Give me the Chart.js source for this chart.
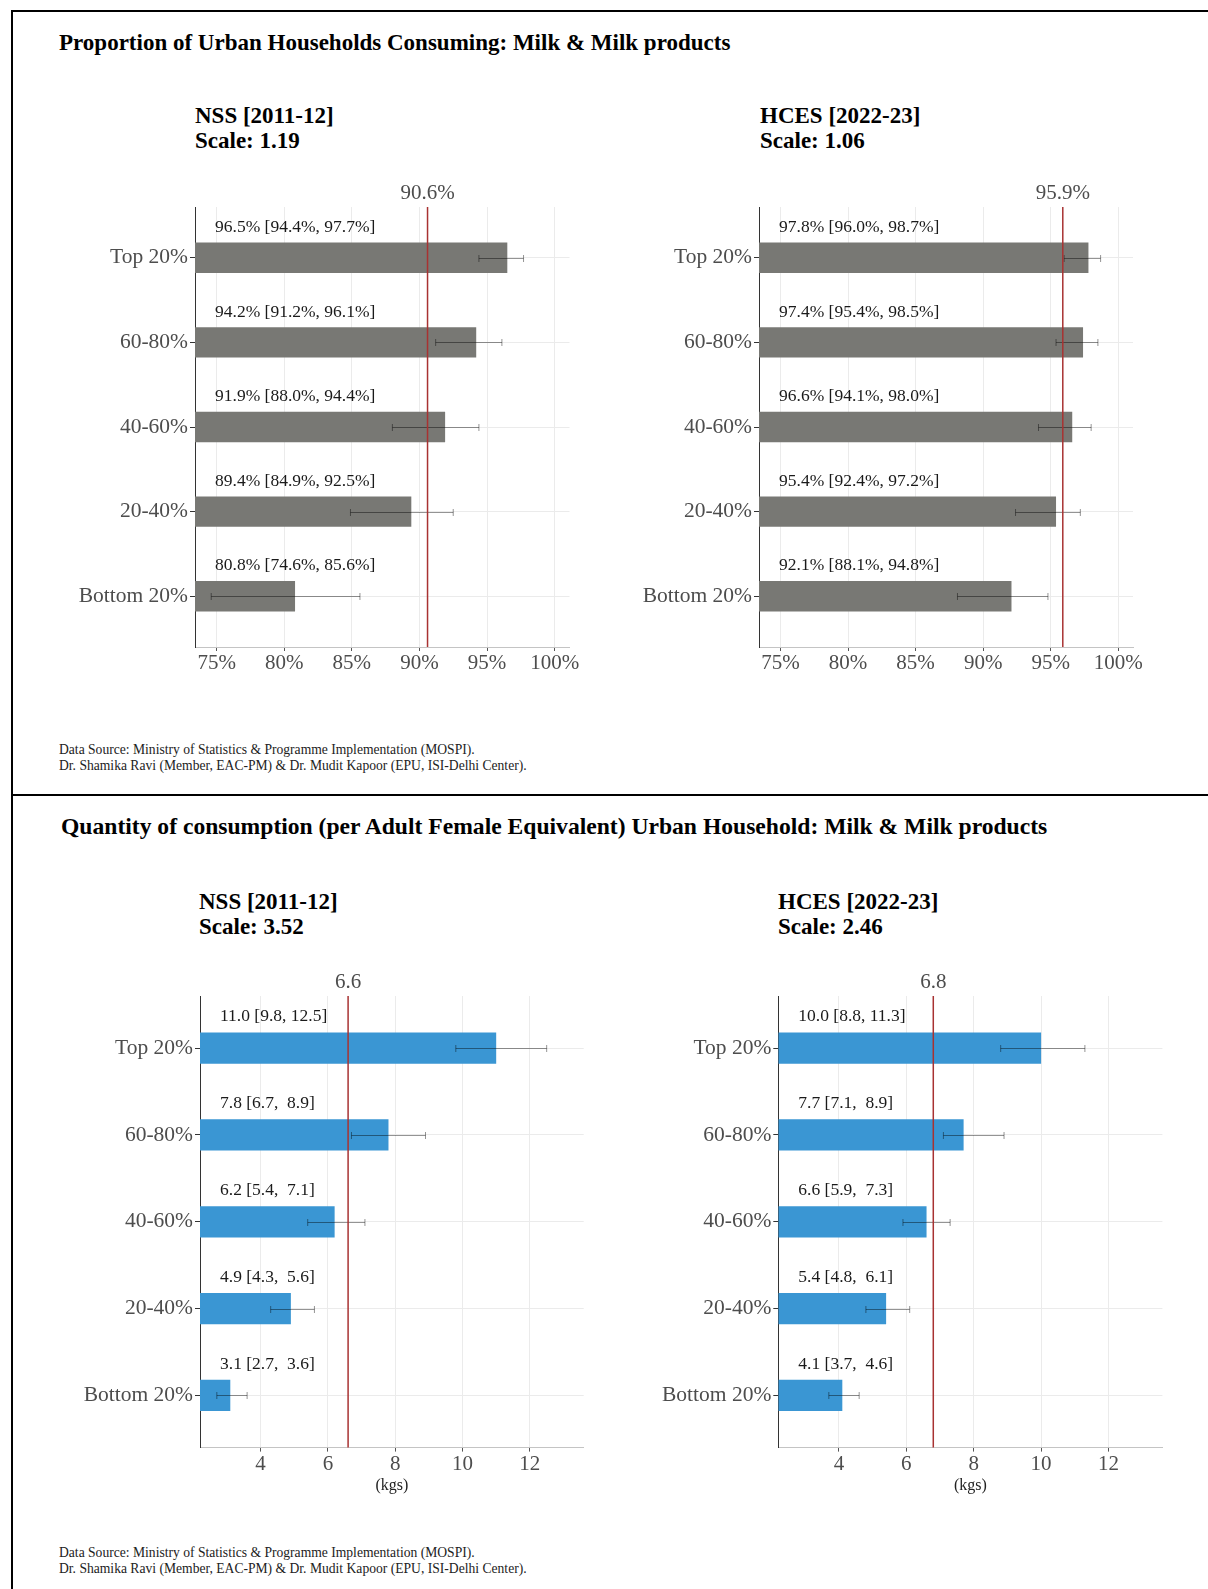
<!DOCTYPE html>
<html>
<head>
<meta charset="utf-8">
<script src="https://cdn.jsdelivr.net/npm/chart.js@4.4.1/dist/chart.umd.min.js"></script>
<style>
  body { margin: 0; background: #fff; }
  #page { position: relative; width: 1208px; height: 1589px; overflow: hidden; font-family: 'Liberation Serif', 'Times New Roman', serif; color: #000; }
  .frame-top { position: absolute; left: 11px; top: 10px; width: 1210px; height: 782px; border-top: 2px solid #000; border-left: 2px solid #000; border-bottom: 2px solid #000; }
  .frame-bottom { position: absolute; left: 11px; top: 796px; width: 2px; height: 800px; background: #000; }
  .title { position: absolute; font-weight: bold; font-size: 23px; line-height: 25px; white-space: nowrap; }
  .sub { position: absolute; font-weight: bold; font-size: 23px; line-height: 25px; white-space: nowrap; }
  .note { position: absolute; font-size: 13.6px; line-height: 16px; color: #222; white-space: nowrap; }
  canvas { position: absolute; }
</style>
</head>
<body>
<div id="page">
  <div class="frame-top"></div>
  <div class="frame-bottom"></div>

  <div class="title" style="left:59px; top:30px;">Proportion of Urban Households Consuming: Milk &amp; Milk products</div>
  <div class="sub" style="left:195px; top:103px;">NSS [2011-12]<br>Scale: 1.19</div>
  <div class="sub" style="left:760px; top:103px;">HCES [2022-23]<br>Scale: 1.06</div>
  <canvas id="propNss" width="600" height="540" style="left:0px; top:160px;"></canvas>
  <canvas id="propHces" width="600" height="540" style="left:604px; top:160px;"></canvas>
  <div class="note" style="left:59px; top:742px;">Data Source: Ministry of Statistics &amp; Programme Implementation (MOSPI).<br>Dr. Shamika Ravi (Member, EAC-PM) &amp; Dr. Mudit Kapoor (EPU, ISI-Delhi Center).</div>

  <div class="title" style="left:61px; top:814px; font-size:23.6px;">Quantity of consumption (per Adult Female Equivalent) Urban Household: Milk &amp; Milk products</div>
  <div class="sub" style="left:199px; top:889px;">NSS [2011-12]<br>Scale: 3.52</div>
  <div class="sub" style="left:778px; top:889px;">HCES [2022-23]<br>Scale: 2.46</div>
  <canvas id="qtyNss" width="600" height="560" style="left:0px; top:950px;"></canvas>
  <canvas id="qtyHces" width="600" height="560" style="left:604px; top:950px;"></canvas>
  <div class="note" style="left:59px; top:1545px;">Data Source: Ministry of Statistics &amp; Programme Implementation (MOSPI).<br>Dr. Shamika Ravi (Member, EAC-PM) &amp; Dr. Mudit Kapoor (EPU, ISI-Delhi Center).</div>
</div>

<script>
// quintile groups, top to bottom
const categories = ['Top 20%', '60-80%', '40-60%', '20-40%', 'Bottom 20%'];

// proportion consuming (%)
const propNssValues = [96.5, 94.2, 91.9, 89.4, 80.8];
const propNssLower  = [94.4, 91.2, 88.0, 84.9, 74.6];
const propNssUpper  = [97.7, 96.1, 94.4, 92.5, 85.6];
const propNssAvg = 90.6;

const propHcesValues = [97.8, 97.4, 96.6, 95.4, 92.1];
const propHcesLower  = [96.0, 95.4, 94.1, 92.4, 88.1];
const propHcesUpper  = [98.7, 98.5, 98.0, 97.2, 94.8];
const propHcesAvg = 95.9;

// quantity per adult female equivalent (kgs)
const qtyNssValues = [11.0, 7.8, 6.2, 4.9, 3.1];
const qtyNssLower  = [9.8, 6.7, 5.4, 4.3, 2.7];
const qtyNssUpper  = [12.5, 8.9, 7.1, 5.6, 3.6];
const qtyNssAvg = 6.6;

const qtyHcesValues = [10.0, 7.7, 6.6, 5.4, 4.1];
const qtyHcesLower  = [8.8, 7.1, 5.9, 4.8, 3.7];
const qtyHcesUpper  = [11.3, 8.9, 7.3, 6.1, 4.6];
const qtyHcesAvg = 6.8;

// x axis ticks
const propTicks = [75, 80, 85, 90, 95, 100];
const qtyTicks = [4, 6, 8, 10, 12];

const FONT = 'Liberation Serif';
const pct = v => v.toFixed(1) + '%';
const num = v => v.toFixed(1);

// error bars, average line and value labels
function makeOverlay(cfg) {
    return {
        id: 'overlay',
        afterDatasetsDraw(chart) {
            const { ctx, chartArea: a, scales: { x, y } } = chart;
            ctx.save();

            ctx.strokeStyle = 'rgba(0,0,0,0.42)';
            ctx.lineWidth = 1;
            cfg.lower.forEach((lo, i) => {
                const yy = Math.round(y.getPixelForValue(i)) + 0.5;
                const x0 = x.getPixelForValue(lo);
                const x1 = x.getPixelForValue(cfg.upper[i]);
                ctx.beginPath();
                ctx.moveTo(x0, yy); ctx.lineTo(x1, yy);
                ctx.moveTo(x0, yy - 3.5); ctx.lineTo(x0, yy + 3.5);
                ctx.moveTo(x1, yy - 3.5); ctx.lineTo(x1, yy + 3.5);
                ctx.stroke();
            });

            const ax = x.getPixelForValue(cfg.avg);
            ctx.strokeStyle = '#a83232';
            ctx.lineWidth = 1.5;
            ctx.beginPath();
            ctx.moveTo(ax, a.top); ctx.lineTo(ax, a.bottom);
            ctx.stroke();

            ctx.fillStyle = '#4d4d4d';
            ctx.font = '21px "' + FONT + '"';
            ctx.textAlign = 'center';
            ctx.textBaseline = 'alphabetic';
            ctx.fillText(cfg.fmt(cfg.avg), ax, a.top - 8);

            ctx.fillStyle = '#1a1a1a';
            ctx.font = '17.5px "' + FONT + '"';
            ctx.textAlign = 'left';
            ctx.textBaseline = 'middle';
            cfg.values.forEach((v, i) => {
                const txt = cfg.fmt(v) + ' [' + cfg.fmt(cfg.lower[i]) + ', ' + cfg.fmt(cfg.upper[i]).padStart(4) + ']';
                ctx.fillText(txt, a.left + 20, y.getPixelForValue(i - 0.36));
            });
            ctx.restore();
        }
    };
}

function drawPanel(id, cfg) {
    return new Chart(document.getElementById(id), {
        type: 'bar',
        data: {
            datasets: [{
                data: cfg.values.map((v, i) => ({ x: v, y: i })),
                base: cfg.xMin,
                backgroundColor: cfg.color,
                borderWidth: 0,
                barPercentage: 0.36,
                categoryPercentage: 1
            }]
        },
        options: {
            indexAxis: 'y',
            responsive: false,
            animation: false,
            layout: { padding: { top: cfg.padTop, right: cfg.padRight, left: 0, bottom: 0 } },
            plugins: {
                legend: { display: false },
                tooltip: { enabled: false }
            },
            scales: {
                x: {
                    type: 'linear',
                    min: cfg.xMin,
                    max: cfg.xMax,
                    afterBuildTicks: s => { s.ticks = cfg.ticks.map(v => ({ value: v })); },
                    afterFit: s => { s.height = cfg.xHeight; },
                    ticks: {
                        callback: cfg.tickFmt,
                        color: '#4d4d4d',
                        font: { family: FONT, size: 21, lineHeight: 1 },
                        padding: 2,
                        maxRotation: 0
                    },
                    grid: { color: '#ebebeb', tickColor: '#555', tickLength: 4 },
                    border: { color: '#c4c4c4', width: 1 },
                    title: {
                        display: !!cfg.xTitle,
                        text: cfg.xTitle || '',
                        color: '#222',
                        font: { family: FONT, size: 16 },
                        padding: { top: 0, bottom: 15 }
                    }
                },
                y: {
                    type: 'linear',
                    min: -0.6,
                    max: 4.6,
                    reverse: true,
                    offset: false,
                    afterBuildTicks: s => { s.ticks = categories.map((c, i) => ({ value: i })); },
                    afterFit: s => { s.width = cfg.yWidth; },
                    ticks: {
                        callback: v => categories[v],
                        color: '#4d4d4d',
                        font: { family: FONT, size: 21.5, lineHeight: 1 },
                        padding: 2,
                        autoSkip: false
                    },
                    grid: { color: '#ebebeb', tickColor: '#333', tickLength: 5, offset: false },
                    border: { color: '#333', width: 1 }
                }
            }
        },
        plugins: [makeOverlay(cfg)]
    });
}

const grey = '#787874';
const blue = '#3a96d3';

drawPanel('propNss', {
    values: propNssValues, lower: propNssLower, upper: propNssUpper, avg: propNssAvg,
    xMin: 73.4, xMax: 101.1, ticks: propTicks, tickFmt: v => v + '%', fmt: pct, color: grey,
    yWidth: 195, padTop: 47, padRight: 30.5, xHeight: 53
});

drawPanel('propHces', {
    values: propHcesValues, lower: propHcesLower, upper: propHcesUpper, avg: propHcesAvg,
    xMin: 73.4, xMax: 101.1, ticks: propTicks, tickFmt: v => v + '%', fmt: pct, color: grey,
    yWidth: 155, padTop: 47, padRight: 71, xHeight: 53
});

drawPanel('qtyNss', {
    values: qtyNssValues, lower: qtyNssLower, upper: qtyNssUpper, avg: qtyNssAvg,
    xMin: 2.2, xMax: 13.6, ticks: qtyTicks, tickFmt: v => String(v), fmt: num, color: blue,
    xTitle: '(kgs)',
    yWidth: 200, padTop: 46, padRight: 16.3, xHeight: 62.4
});

drawPanel('qtyHces', {
    values: qtyHcesValues, lower: qtyHcesLower, upper: qtyHcesUpper, avg: qtyHcesAvg,
    xMin: 2.2, xMax: 13.6, ticks: qtyTicks, tickFmt: v => String(v), fmt: num, color: blue,
    xTitle: '(kgs)',
    yWidth: 174.3, padTop: 46, padRight: 41.6, xHeight: 62.4
});
</script>
</body>
</html>
